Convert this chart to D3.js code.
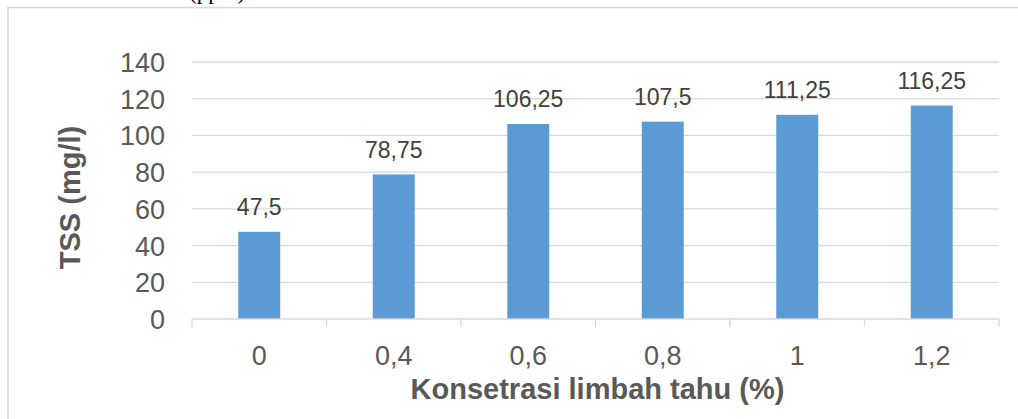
<!DOCTYPE html>
<html>
<head>
<meta charset="utf-8">
<script src="https://cdn.jsdelivr.net/npm/d3@7"></script>
<style>
  html, body { margin: 0; padding: 0; background: #fff; }
  svg { display: block; }
  text { font-family: "Liberation Sans", Arial, sans-serif; }
  text.caption { font-family: "Liberation Serif", "Times New Roman", serif; }
</style>
</head>
<body>
<svg id="chart" width="1018" height="419"></svg>
<script>
// Konsentrasi limbah tahu (%) dan nilai TSS (mg/l)
const categories = ["0", "0,4", "0,6", "0,8", "1", "1,2"];
const tssValues = [47.5, 78.75, 106.25, 107.5, 111.25, 116.25];
const valueLabels = ["47,5", "78,75", "106,25", "107,5", "111,25", "116,25"];
const yTicks = [0, 20, 40, 60, 80, 100, 120, 140];

const svg = d3.select("#chart");
const W = 1018, H = 419;
const plot = { left: 192, right: 999, top: 62, bottom: 319 };

// outer chart frame (continues past the right and bottom edges)
svg.append("rect")
  .attr("x", 8).attr("y", 7.5)
  .attr("width", W + 20).attr("height", H + 20)
  .attr("fill", "#fff")
  .attr("stroke", "#d9d9d9")
  .attr("stroke-width", 1.6);

// caption fragment above the frame
svg.append("text")
  .attr("class", "caption")
  .attr("x", 189).attr("y", -1)
  .attr("font-size", 23)
  .attr("fill", "#000")
  .text("(ppm)");

const x = d3.scaleBand()
  .domain(categories)
  .range([plot.left, plot.right])
  .paddingInner(0.688)
  .paddingOuter(0.344);

const y = d3.scaleLinear()
  .domain([0, 140])
  .range([plot.bottom, plot.top]);

// horizontal gridlines
svg.append("g")
  .selectAll("line")
  .data(yTicks.filter(d => d > 0))
  .join("line")
  .attr("x1", plot.left).attr("x2", plot.right)
  .attr("y1", d => y(d)).attr("y2", d => y(d))
  .attr("stroke", "#d9d9d9")
  .attr("stroke-width", 1.3);

// y axis labels
const yAxis = d3.axisLeft(y).tickValues(yTicks).tickSize(0).tickPadding(0);
const gy = svg.append("g")
  .attr("transform", `translate(165,0)`)
  .call(yAxis);
gy.select(".domain").remove();
gy.selectAll("text")
  .attr("font-size", 27)
  .attr("fill", "#595959")
  .attr("dy", "0.35em")
  .style("font-family", "'Liberation Sans', Arial, sans-serif");

// bars
svg.append("g")
  .selectAll("rect")
  .data(tssValues)
  .join("rect")
  .attr("x", (d, i) => x(categories[i]))
  .attr("y", d => y(d))
  .attr("width", x.bandwidth())
  .attr("height", d => y(0) - y(d))
  .attr("fill", "#5b9bd5");

// value labels above bars
svg.append("g")
  .selectAll("text")
  .data(tssValues)
  .join("text")
  .attr("x", (d, i) => x(categories[i]) + x.bandwidth() / 2)
  .attr("y", d => y(d) - 16.5)
  .attr("text-anchor", "middle")
  .attr("font-size", 23)
  .attr("fill", "#404040")
  .text((d, i) => valueLabels[i]);

// x axis line and category boundary ticks
const boundaries = categories.map(c => x(c) - x.step() * x.paddingInner() / 2);
boundaries.push(plot.right);
const gx = svg.append("g");
gx.append("line")
  .attr("x1", plot.left).attr("x2", plot.right)
  .attr("y1", y(0)).attr("y2", y(0))
  .attr("stroke", "#d9d9d9")
  .attr("stroke-width", 1.3);
gx.selectAll("line.tick")
  .data(boundaries)
  .join("line")
  .attr("class", "tick")
  .attr("x1", d => d).attr("x2", d => d)
  .attr("y1", y(0)).attr("y2", y(0) + 8)
  .attr("stroke", "#d9d9d9")
  .attr("stroke-width", 1.3);

// x category labels
svg.append("g")
  .selectAll("text")
  .data(categories)
  .join("text")
  .attr("x", d => x(d) + x.bandwidth() / 2)
  .attr("y", 365)
  .attr("text-anchor", "middle")
  .attr("font-size", 27)
  .attr("fill", "#595959")
  .text(d => d);

// axis titles
svg.append("text")
  .attr("x", (plot.left + plot.right) / 2 + 2)
  .attr("y", 398.5)
  .attr("text-anchor", "middle")
  .attr("font-size", 29)
  .attr("font-weight", "bold")
  .attr("fill", "#595959")
  .text("Konsetrasi limbah tahu (%)");

svg.append("text")
  .attr("transform", "translate(80,197.5) rotate(-90)")
  .attr("text-anchor", "middle")
  .attr("font-size", 29)
  .attr("font-weight", "bold")
  .attr("fill", "#595959")
  .text("TSS (mg/l)");
</script>
</body>
</html>
